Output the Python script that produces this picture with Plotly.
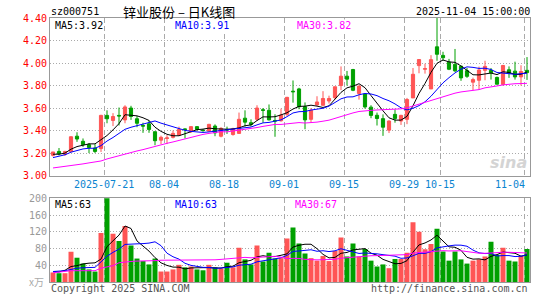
import plotly.graph_objects as go
import pandas as pd

# ---------------- data ----------------
_all_days = pd.bdate_range("2025-07-08", "2025-11-04")
dates = [d.strftime("%Y-%m-%d") for d in _all_days
         if not ("2025-10-01" <= d.strftime("%Y-%m-%d") <= "2025-10-08")]

opens = [3.18, 3.215, 3.19, 3.215, 3.35, 3.305, 3.275, 3.245, 3.24, 3.535,
         3.49, 3.535, 3.495, 3.60, 3.505, 3.445, 3.46, 3.39, 3.315, 3.33,
         3.34, 3.36, 3.415, 3.39, 3.435, 3.405, 3.395, 3.44, 3.35, 3.41,
         3.365, 3.375, 3.51, 3.47, 3.50, 3.585, 3.58, 3.49, 3.487, 3.545,
         3.75, 3.77, 3.612, 3.50, 3.628, 3.625, 3.663, 3.692, 3.80, 3.883,
         3.942, 3.73, 3.725, 3.608, 3.536, 3.506, 3.404, 3.544, 3.485, 3.50,
         3.69, 3.977, 3.945, 3.77, 4.144, 4.068, 4.008, 3.988, 3.972, 3.932,
         3.83, 3.847, 3.935, 3.935, 3.872, 3.81, 3.94, 3.928, 3.877, 3.935]
highs = [3.21, 3.245, 3.22, 3.35, 3.385, 3.33, 3.29, 3.28, 3.54, 3.58,
         3.555, 3.605, 3.625, 3.62, 3.53, 3.47, 3.49, 3.39, 3.355, 3.36,
         3.40, 3.435, 3.42, 3.44, 3.44, 3.41, 3.46, 3.455, 3.43, 3.435,
         3.425, 3.56, 3.58, 3.50, 3.625, 3.60, 3.632, 3.545, 3.595, 3.70,
         3.845, 3.78, 3.65, 3.60, 3.705, 3.75, 3.71, 3.79, 3.97, 3.93,
         3.948, 3.80, 3.73, 3.625, 3.56, 3.544, 3.49, 3.588, 3.54, 3.69,
         3.956, 4.032, 3.994, 4.07, 4.41, 4.10, 4.037, 4.125, 3.975, 3.956,
         3.87, 3.968, 4.02, 3.956, 3.88, 3.984, 3.97, 4.012, 3.98, 4.053]
lows = [3.17, 3.18, 3.175, 3.21, 3.30, 3.255, 3.20, 3.20, 3.21, 3.465,
        3.44, 3.445, 3.465, 3.495, 3.43, 3.38, 3.38, 3.27, 3.28, 3.28,
        3.33, 3.355, 3.33, 3.38, 3.40, 3.39, 3.39, 3.35, 3.34, 3.37,
        3.355, 3.37, 3.435, 3.435, 3.485, 3.47, 3.49, 3.345, 3.48, 3.53,
        3.648, 3.59, 3.412, 3.47, 3.62, 3.62, 3.64, 3.678, 3.76, 3.80,
        3.75, 3.675, 3.595, 3.51, 3.445, 3.353, 3.378, 3.47, 3.45, 3.457,
        3.69, 3.909, 3.906, 3.77, 4.02, 4.02, 3.937, 3.92, 3.842, 3.868,
        3.759, 3.765, 3.847, 3.853, 3.81, 3.80, 3.868, 3.853, 3.80, 3.85]
closes = [3.21, 3.195, 3.215, 3.345, 3.325, 3.275, 3.25, 3.215, 3.535, 3.505,
          3.525, 3.53, 3.61, 3.525, 3.465, 3.44, 3.41, 3.31, 3.34, 3.335,
          3.375, 3.41, 3.41, 3.435, 3.41, 3.40, 3.455, 3.38, 3.42, 3.405,
          3.415, 3.50, 3.475, 3.455, 3.60, 3.58, 3.495, 3.485, 3.537, 3.695,
          3.745, 3.612, 3.495, 3.58, 3.654, 3.685, 3.685, 3.789, 3.883, 3.857,
          3.758, 3.795, 3.61, 3.535, 3.507, 3.43, 3.485, 3.508, 3.535, 3.676,
          3.90, 4.031, 3.95, 4.03, 4.078, 4.047, 3.945, 3.931, 3.868, 3.882,
          3.853, 3.938, 3.97, 3.913, 3.812, 3.978, 3.909, 3.877, 3.925, 3.915]
volumes = [22.8, 21, 21, 72, 58, 44, 30, 25, 117, 205,
           115, 98, 134, 87, 56, 50, 42, 56, 25, 25,
           30, 41, 35, 37, 30, 28, 41, 35, 32, 46,
           35, 82, 54, 42, 87, 49, 70, 56, 57, 104,
           130, 92, 68, 57, 51, 62, 50, 74, 106, 61,
           92, 61, 79, 51, 37, 42, 33, 55, 55, 70,
           143, 120, 78, 91, 127, 73, 51, 73, 54, 44,
           51, 54, 61, 96, 65, 82, 51, 49, 62, 79]

# moving-average values at the left edge (window extends before the visible range)
ma5_head = [3.19, 3.19, 3.20, 3.235]
ma10_head = [3.16, 3.17, 3.185, 3.208, 3.225, 3.237, 3.243, 3.243, 3.266]
ma30_head = [3.068, 3.074, 3.08, 3.089, 3.095, 3.104, 3.113, 3.119, 3.13, 3.148,
             3.163, 3.178, 3.195, 3.21, 3.219, 3.231, 3.246, 3.26, 3.275, 3.287,
             3.299, 3.313, 3.325, 3.34, 3.355, 3.366, 3.375, 3.381, 3.39]
vma5_head = [25, 24, 28, 37]
vma10_head = [25, 26, 27, 30, 33, 34, 35, 35, 48]
vma30_head = [22, 24, 25, 27, 27, 27, 27, 27, 33, 36, 39, 46, 48, 49, 50, 50,
              51, 51, 52, 52, 52, 52, 52, 52, 52, 53, 53, 53, 54]

price_ticks = [3.00, 3.20, 3.40, 3.60, 3.80, 4.00, 4.20, 4.40]
volume_ticks = [40, 80, 120, 160, 200]
label_dates = ["2025-07-21", "2025-08-04", "2025-08-18", "2025-09-01",
               "2025-09-15", "2025-09-29", "2025-10-15", "2025-11-04"]

code = "sz000751"
title = "锌业股份\u00a0–\u00a0日K线图"
timestamp = "2025-11-04 15:00:00"
ma_price_labels = ["MA5:3.92", "MA10:3.91", "MA30:3.82"]
ma_vol_labels = ["MA5:63", "MA10:63", "MA30:67"]

# ---------------- helpers ----------------
def rolling(vals, n, head):
    out = []
    for i in range(len(vals)):
        if i < n - 1:
            out.append(head[i])
        else:
            out.append(sum(vals[i - n + 1:i + 1]) / n)
    return out

x = list(range(len(dates)))
RED = "#ff5555"
GREEN = "#00a000"
MONO = "DejaVu Sans Mono"

W, H = 545, 300
L, R, T, B = 50, 15, 18, 14
PW, PH = W - L - R, H - T - B

def px(xp):
    return (xp - L) / PW

def py(yp):
    return (H - B - yp) / PH

price_dom = [py(178), 1.0]
vol_dom = [0.0, py(201)]

tick_pos = [dates.index(d) - 0.5 for d in label_dates]
tick_txt = [label_dates[0]] + [d[5:] for d in label_dates[1:]]

fig = go.Figure()

fig.add_trace(go.Candlestick(
    x=x, open=opens, high=highs, low=lows, close=closes,
    xaxis="x", yaxis="y",
    increasing=dict(line=dict(color=RED, width=1), fillcolor=RED),
    decreasing=dict(line=dict(color=GREEN, width=1), fillcolor=GREEN),
    whiskerwidth=0, hoverinfo="skip", showlegend=False))

for vals, color in [(rolling(closes, 5, ma5_head), "#000000"),
                    (rolling(closes, 10, ma10_head), "#0000ff"),
                    (rolling(closes, 30, ma30_head), "#ff00ff")]:
    fig.add_trace(go.Scatter(x=x, y=vals, mode="lines", xaxis="x", yaxis="y",
                             line=dict(color=color, width=1), hoverinfo="skip",
                             showlegend=False))

bar_colors = [RED if c > o else GREEN for o, c in zip(opens, closes)]
fig.add_trace(go.Bar(x=x, y=volumes, marker=dict(color=bar_colors, line=dict(width=0)),
                     xaxis="x2", yaxis="y2", hoverinfo="skip", showlegend=False))

for vals, color in [(rolling(volumes, 5, vma5_head), "#000000"),
                    (rolling(volumes, 10, vma10_head), "#0000ff"),
                    (rolling(volumes, 30, vma30_head), "#ff00ff")]:
    fig.add_trace(go.Scatter(x=x, y=vals, mode="lines", xaxis="x2", yaxis="y2",
                             line=dict(color=color, width=1), hoverinfo="skip",
                             showlegend=False))

axis_common = dict(showline=True, mirror=True, linecolor="#999999", linewidth=1,
                   zeroline=False, ticks="")
xgrid = dict(showgrid=True, gridcolor="#aaaaaa", gridwidth=1, griddash="5px,3px")
ygrid = dict(showgrid=True, gridcolor="#aaaaaa", gridwidth=1, griddash="1px,2px")

fig.update_layout(
    width=W, height=H, margin=dict(l=L, r=R, t=T, b=B, pad=0),
    paper_bgcolor="white", plot_bgcolor="white",
    boxgap=0.25, bargap=0.17, showlegend=False, hovermode=False,
    font=dict(family=MONO, size=10, color="#000"),
    xaxis=dict(domain=[0, 1], anchor="y", range=[-0.5, len(x) - 0.5],
               tickvals=tick_pos, showticklabels=False,
               rangeslider=dict(visible=False), **axis_common, **xgrid),
    yaxis=dict(domain=price_dom, anchor="x", range=[3.0, 4.4],
               tickvals=price_ticks, ticktext=[f"{v:.2f}" for v in price_ticks],
               tickfont=dict(family=MONO, size=10, color="#ff0000"),
               **axis_common, **ygrid),
    xaxis2=dict(domain=[0, 1], anchor="y2", range=[-0.5, len(x) - 0.5],
                tickvals=tick_pos, showticklabels=False, **axis_common, **xgrid),
    yaxis2=dict(domain=vol_dom, anchor="x2", range=[0, 200],
                tickvals=volume_ticks, ticktext=[str(v) for v in volume_ticks],
                tickfont=dict(family=MONO, size=10, color="#999999"),
                **axis_common, **ygrid),
)

ann = []
def add_text(t, xp, yp, anchor="left", color="#000", size=10, family=MONO, bg=None):
    d = dict(text=t, x=px(xp), y=py(yp), xref="paper", yref="paper",
             xanchor=anchor, yanchor="middle", showarrow=False,
             font=dict(family=family, size=size, color=color))
    if bg:
        d["bgcolor"] = bg
        d["borderpad"] = 0
    ann.append(d)

# date labels under the price panel (last one kept inside the frame)
for i, (pos, t) in enumerate(zip(tick_pos, tick_txt)):
    last = i == len(tick_pos) - 1
    ann.append(dict(text=t, x=pos if not last else px(527),
                    xref="x" if not last else "paper",
                    y=py(187), yref="paper",
                    xanchor="center" if not last else "right", yanchor="middle",
                    showarrow=False,
                    font=dict(family=MONO, size=10, color="#0a84d0")))

add_text(code, 49, 11)
add_text(title, 179, 11, anchor="center", family="Noto Sans CJK SC", size=13)
add_text(timestamp, 532, 11, anchor="right")
for t, xp, c in zip(ma_price_labels, [54, 174, 296], ["#000000", "#0000ff", "#ff00ff"]):
    add_text(t, xp, 26, color=c, bg="white")
for t, xp, c in zip(ma_vol_labels, [54, 174, 294], ["#000000", "#0000ff", "#ff00ff"]):
    add_text(t, xp, 207, color=c, bg="white")
add_text("x万", 46, 285, anchor="right", color="#aaaaaa", family="Noto Sans CJK SC", size=10)
add_text("Copyright 2025 SINA.COM", 49, 293, color="#555555")
add_text("http://finance.sina.com.cn", 530, 293, anchor="right", color="#555555")
add_text("<b><i>sina</i></b>", 529, 165, anchor="right", color="#d4d4d4",
         family="DejaVu Sans", size=16)
fig.update_layout(annotations=ann)

fig.write_html("out.html")
